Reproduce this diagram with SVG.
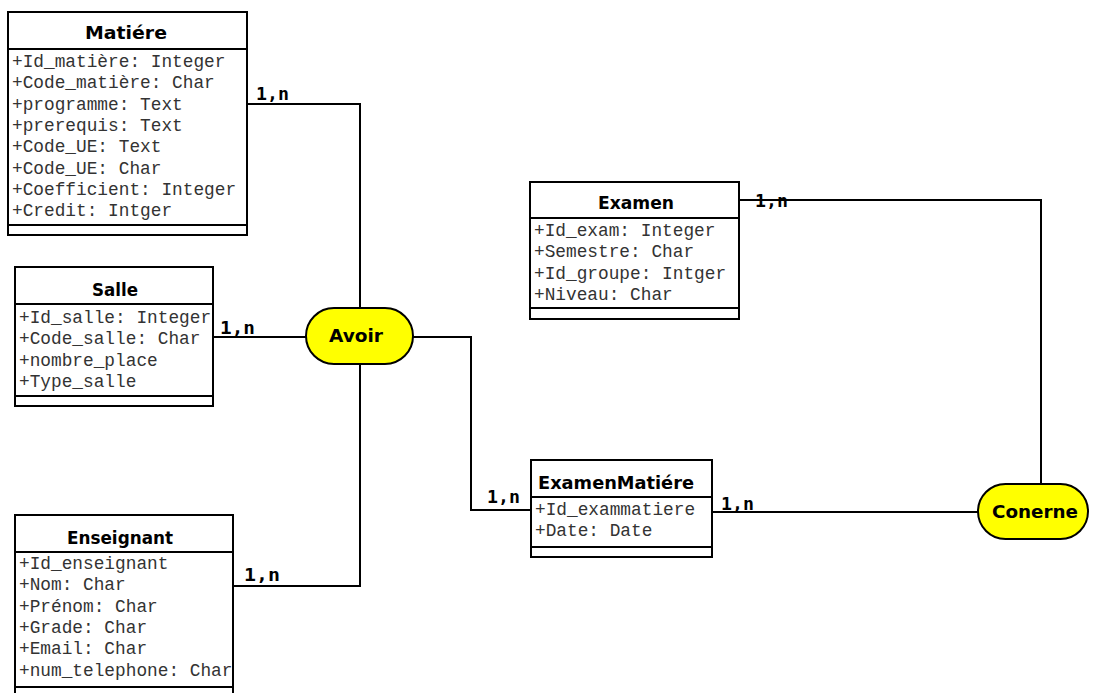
<svg xmlns="http://www.w3.org/2000/svg" width="1097" height="693" viewBox="0 0 1097 693">
<style>
.box{fill:#fff;stroke:#000;stroke-width:2}
.sep{stroke:#000;stroke-width:2}
.title{font-family:"Comic Sans MS","DejaVu Sans",sans-serif;font-weight:bold;font-size:17.5px;fill:#000;text-anchor:middle}
.attr{font-family:"Liberation Mono","Courier New",monospace;font-size:17.8px;fill:#333}
.rel{fill:#ffff00;stroke:#000;stroke-width:2}
.card{font-family:"DejaVu Sans Mono",monospace;font-weight:bold;font-size:18px;fill:#000}
.conn{fill:none;stroke:#000;stroke-width:2}
</style>
<rect width="1097" height="693" fill="#fff"/>
<g id="connectors">
<polyline class="conn" points="247,104 360,104 360,308"/>
<line class="conn" x1="213" y1="337" x2="306" y2="337"/>
<polyline class="conn" points="233,586 360,586 360,364"/>
<polyline class="conn" points="413,337 471,337 471,510 531,510"/>
<line class="conn" x1="712" y1="512" x2="978" y2="512"/>
<polyline class="conn" points="739,200 1041,200 1041,484"/>
<text class="card" x="256" y="100" textLength="33" lengthAdjust="spacingAndGlyphs">1,n</text>
<text class="card" x="220" y="334" textLength="35" lengthAdjust="spacingAndGlyphs">1,n</text>
<text class="card" x="244" y="581" textLength="36" lengthAdjust="spacingAndGlyphs">1,n</text>
<text class="card" x="487" y="503" textLength="33" lengthAdjust="spacingAndGlyphs">1,n</text>
<text class="card" x="721" y="510" textLength="33" lengthAdjust="spacingAndGlyphs">1,n</text>
<text class="card" x="755" y="207" textLength="33" lengthAdjust="spacingAndGlyphs">1,n</text>
</g>
<g id="matiere">
<rect class="box" x="8" y="12" width="239" height="223"/>
<line class="sep" x1="8" y1="49" x2="247" y2="49"/>
<line class="sep" x1="8" y1="225" x2="247" y2="225"/>
<text class="title" x="126" y="39" textLength="82" lengthAdjust="spacingAndGlyphs">Matiére</text>
<text class="attr" x="12" y="67">+Id_matière: Integer</text>
<text class="attr" x="12" y="88.3">+Code_matière: Char</text>
<text class="attr" x="12" y="109.6">+programme: Text</text>
<text class="attr" x="12" y="130.9">+prerequis: Text</text>
<text class="attr" x="12" y="152.2">+Code_UE: Text</text>
<text class="attr" x="12" y="173.5">+Code_UE: Char</text>
<text class="attr" x="12" y="194.8">+Coefficient: Integer</text>
<text class="attr" x="12" y="216.1">+Credit: Intger</text>
</g>
<g id="salle">
<rect class="box" x="15" y="267" width="198" height="139"/>
<line class="sep" x1="15" y1="304" x2="213" y2="304"/>
<line class="sep" x1="15" y1="396" x2="213" y2="396"/>
<text class="title" x="115" y="296" textLength="46" lengthAdjust="spacingAndGlyphs">Salle</text>
<text class="attr" x="19" y="323">+Id_salle: Integer</text>
<text class="attr" x="19" y="344.3">+Code_salle: Char</text>
<text class="attr" x="19" y="365.6">+nombre_place</text>
<text class="attr" x="19" y="386.9">+Type_salle</text>
</g>
<g id="enseignant">
<rect class="box" x="15" y="515" width="218" height="190"/>
<line class="sep" x1="15" y1="552" x2="233" y2="552"/>
<line class="sep" x1="15" y1="687" x2="233" y2="687"/>
<text class="title" x="120" y="544" textLength="106" lengthAdjust="spacingAndGlyphs">Enseignant</text>
<text class="attr" x="19" y="569">+Id_enseignant</text>
<text class="attr" x="19" y="590.3">+Nom: Char</text>
<text class="attr" x="19" y="611.6">+Prénom: Char</text>
<text class="attr" x="19" y="632.9">+Grade: Char</text>
<text class="attr" x="19" y="654.2">+Email: Char</text>
<text class="attr" x="19" y="675.5">+num_telephone: Char</text>
</g>
<g id="examen">
<rect class="box" x="530" y="182" width="209" height="137"/>
<line class="sep" x1="530" y1="218" x2="739" y2="218"/>
<line class="sep" x1="530" y1="308" x2="739" y2="308"/>
<text class="title" x="636" y="209" textLength="76" lengthAdjust="spacingAndGlyphs">Examen</text>
<text class="attr" x="534" y="236">+Id_exam: Integer</text>
<text class="attr" x="534" y="257.3">+Semestre: Char</text>
<text class="attr" x="534" y="278.6">+Id_groupe: Intger</text>
<text class="attr" x="534" y="299.9">+Niveau: Char</text>
</g>
<g id="examenmatiere">
<rect class="box" x="531" y="460" width="181" height="97"/>
<line class="sep" x1="531" y1="497" x2="712" y2="497"/>
<line class="sep" x1="531" y1="547" x2="712" y2="547"/>
<text class="title" x="616" y="489" textLength="156" lengthAdjust="spacingAndGlyphs">ExamenMatiére</text>
<text class="attr" x="535" y="515">+Id_exammatiere</text>
<text class="attr" x="535" y="536.3">+Date: Date</text>
</g>
<g id="avoir">
<rect class="rel" x="306" y="308" width="107" height="56" rx="28" ry="28"/>
<text class="title" x="356" y="342" textLength="54" lengthAdjust="spacingAndGlyphs">Avoir</text>
</g>
<g id="conerne">
<rect class="rel" x="978" y="484" width="110" height="55" rx="27.5" ry="27.5"/>
<text class="title" x="1035" y="518" textLength="86" lengthAdjust="spacingAndGlyphs">Conerne</text>
</g>
</svg>
